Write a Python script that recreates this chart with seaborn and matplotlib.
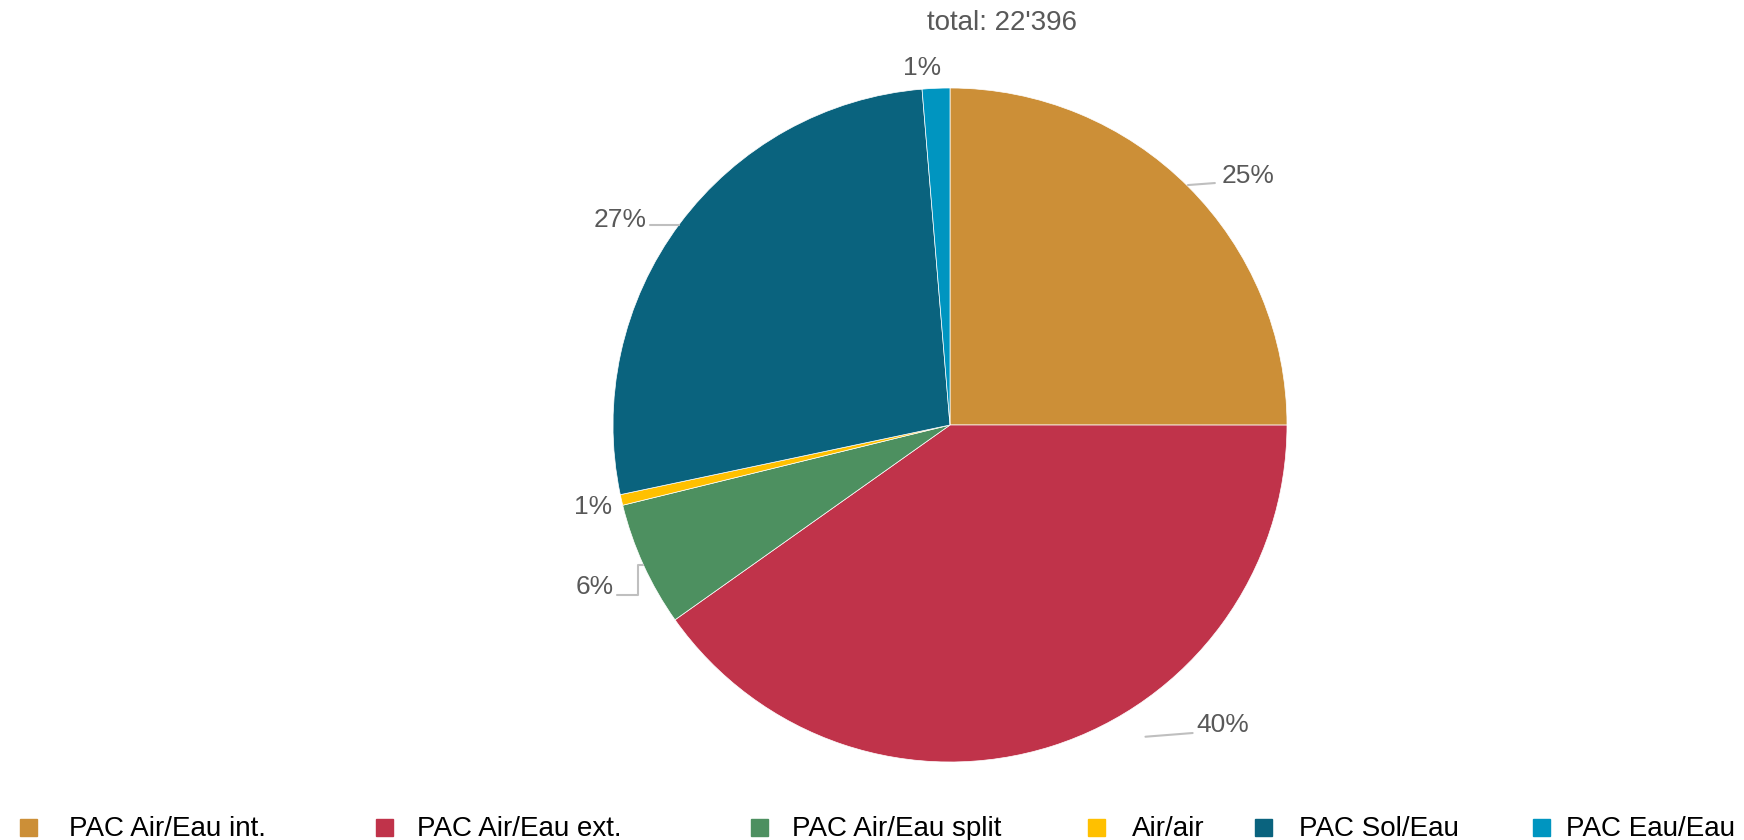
import matplotlib
matplotlib.use("Agg")
import matplotlib.pyplot as plt
from matplotlib.patches import Rectangle
import seaborn as sns
import numpy as np

# data
categories = ["PAC Air/Eau int.", "PAC Air/Eau ext.", "PAC Air/Eau split",
              "Air/air", "PAC Sol/Eau", "PAC Eau/Eau"]
counts = [5600, 9000, 1340, 115, 6045, 296]
colors = ["#CC8F37", "#C0334A", "#4D9060", "#FFC000", "#0A637E", "#0095C0"]
total_label = "total: 22'396"

sns.set_theme(style="white")
plt.rcParams['font.family'] = ['Liberation Sans Narrow', 'Liberation Sans', 'DejaVu Sans']

W, H = 1744, 840
fig = plt.figure(figsize=(W / 100, H / 100), dpi=100)

# pie centred at (950, 425) px with radius 337 px
cx, cy, R = 950, 425, 337
ax = fig.add_axes([(cx - R) / W, (H - cy - R) / H, 2 * R / W, 2 * R / H])
wedges, _ = ax.pie(counts, colors=colors, startangle=90, counterclock=False,
                   radius=1, wedgeprops=dict(linewidth=0.5, edgecolor="white"))
ax.set_xlim(-1, 1)
ax.set_ylim(-1, 1)
ax.set_aspect("equal")
ax.axis("off")

# percent labels (layout positions in pie-radius units)
label_pos = [(0.884, 0.739), (0.81, -0.89), (-1.053, -0.481),
             (-1.059, -0.243), (-0.979, 0.608), (-0.083, 1.059)]
total = sum(counts)
for v, (lx, ly) in zip(counts, label_pos):
    pct = 100 * v / total
    ax.text(lx, ly, f"{int(pct + 0.5)}%", ha="center", va="center",
            fontsize=19, color="#595959")

# leader lines
leaders = [
    [(0.706, 0.712), (0.786, 0.718)],
    [(0.58, -0.925), (0.72, -0.914)],
    [(-0.91, -0.415), (-0.926, -0.415), (-0.926, -0.504), (-0.988, -0.504)],
    [(-0.805, 0.593), (-0.890, 0.593)],
]
for seg in leaders:
    xs, ys = zip(*seg)
    ax.plot(xs, ys, color="#BFBFBF", lw=1.5, clip_on=False)

# title
fig.text(1002 / W, 1 - 23 / H, total_label, ha="center", va="center",
         fontsize=20, color="#595959")

# legend row
marker_x = [20, 376, 751, 1088, 1255, 1533]
text_x = [69, 417, 792, 1132, 1299, 1566]
for lab, col, mx, tx in zip(categories, colors, marker_x, text_x):
    fig.patches.append(Rectangle((mx / W, 1 - 836 / H), 17 / W, 17 / H,
                                 transform=fig.transFigure, color=col))
    fig.text(tx / W, 1 - 836 / H, lab, ha="left", va="baseline",
             fontsize=20, color="black")

fig.savefig("out.png", dpi=100)
